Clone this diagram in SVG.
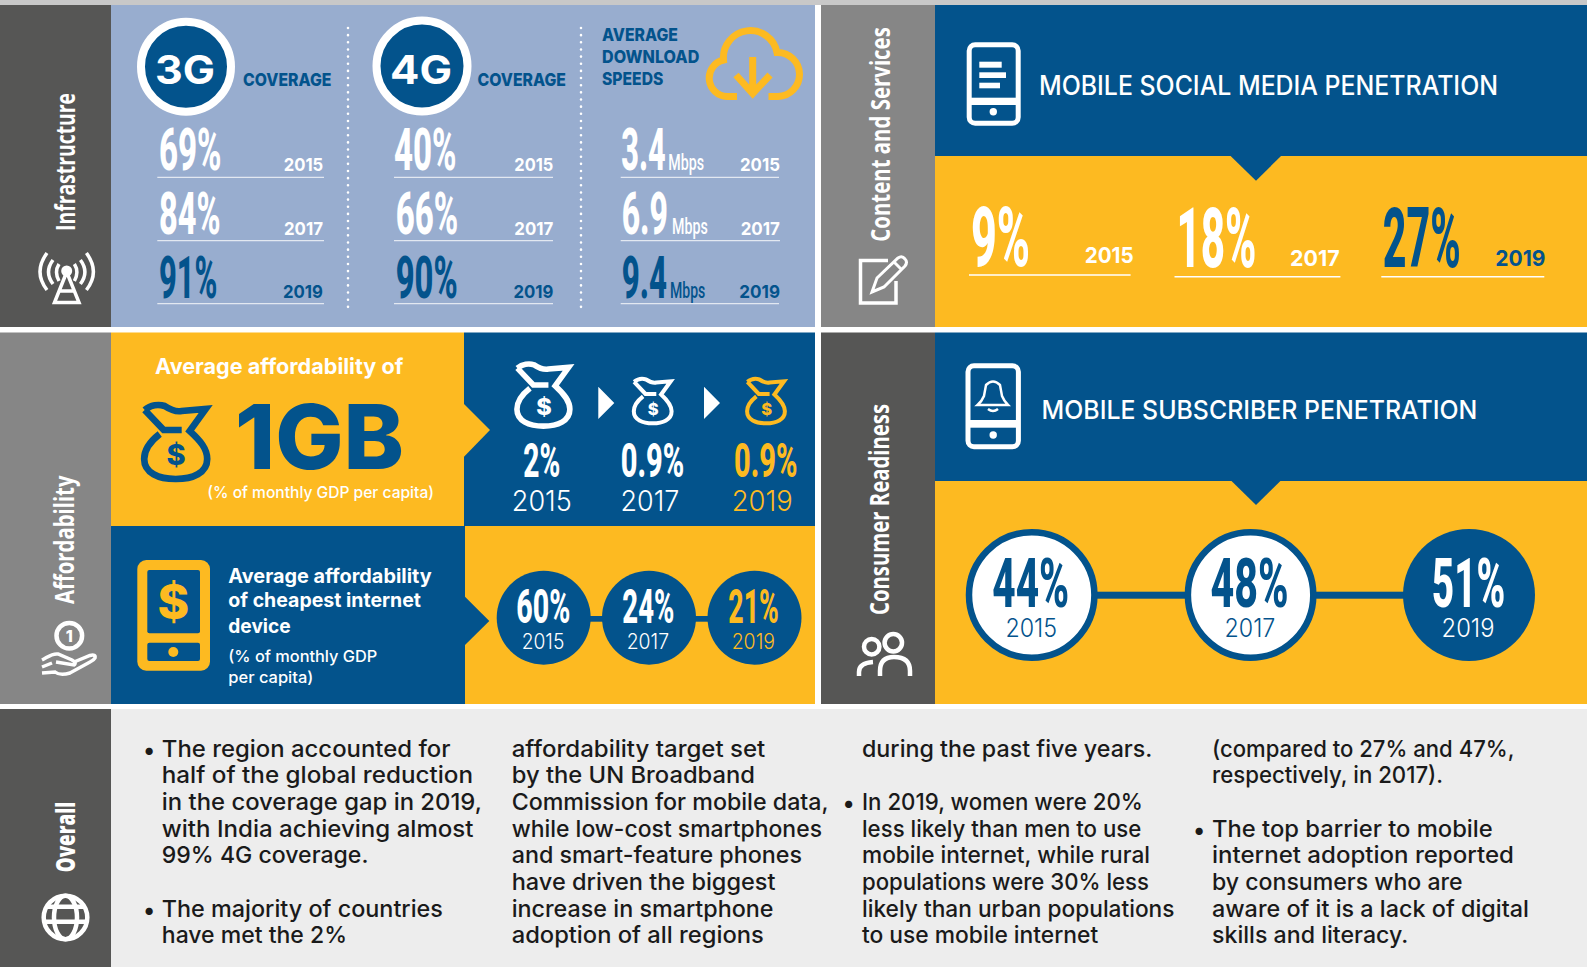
<svg xmlns="http://www.w3.org/2000/svg" width="1587" height="967" viewBox="0 0 1587 967">
<style>
text{font-family:Inter,"Liberation Sans",sans-serif}
.n{font-family:Roboto,"Liberation Sans",sans-serif;font-weight:800}
.m{font-family:Roboto,"Liberation Sans",sans-serif;font-weight:500;font-size:22px}
.y{font-weight:700}
.l{font-weight:300}
.h{font-weight:800;fill:#03538c}
.r{font-family:"Open Sans","Liberation Sans",sans-serif;font-weight:700;font-size:26px;fill:#fff}
.b{font-size:23px;font-weight:500;fill:#1a1a1a}
.w{fill:#fff}.u{fill:#03538c}.o{fill:#fdba21}
.rule{stroke:#e2e8f1;stroke-width:1.2;fill:none}
.dots{stroke:#fff;stroke-width:2.6;stroke-linecap:round;stroke-dasharray:0 7.15;fill:none}
.iw{fill:none;stroke:#fff;stroke-width:3.5}
.bag{fill:none;stroke-width:6.7;stroke-linejoin:miter}
</style>
<defs>
<g id="bagshape">
<path d="M4 7C10 2 18 1 24 3C30 7 36 9 41 8L65 6L49 28C60 38 66.500 46 66.500 56C66.500 70 52 76 35 76C18 76 3.500 70 3.500 56C3.500 46 10 38 19 31"/>
<path d="M4 7L23 27H41"/>
</g>
</defs>
<rect width="1587" height="967" fill="#fff"/>
<rect width="1587" height="5" fill="#c8c8c8"/>

<g id="infrastructure">
<rect x="0" y="5" width="111" height="322" fill="#565655"/>
<rect x="111" y="5" width="704" height="322" fill="#98adcf"/>
<text class="r" transform="translate(75,231) rotate(-90) scale(.75,1)" textLength="184" lengthAdjust="spacingAndGlyphs">Infrastructure</text>
<g class="iw">
<path d="M66.700 272L54.500 302.500H79L66.700 272M58 291H75.500"/>
<path d="M47 253Q33 272 47 290M53 260Q44 272 53 284M59 264Q54 272 59 281"/>
<path d="M86.400 253Q100.400 272 86.400 290M80.400 260Q89.400 272 80.400 284M74.400 264Q79.400 272 74.400 281"/>
</g>
<circle cx="66.700" cy="271" r="5.500" class="w"/>
<circle cx="186" cy="66.700" r="45" class="u" stroke="#fff" stroke-width="8"/>
<text x="155" y="83.500" font-size="40" font-weight="700" class="w" textLength="60" lengthAdjust="spacingAndGlyphs">3G</text>
<text x="243" y="86" font-size="17.500" class="h" textLength="88.500" lengthAdjust="spacingAndGlyphs">COVERAGE</text>
<circle cx="422" cy="66" r="45.500" class="u" stroke="#fff" stroke-width="8"/>
<text x="390" y="83.500" font-size="40" font-weight="700" class="w" textLength="62" lengthAdjust="spacingAndGlyphs">4G</text>
<text x="477.500" y="86" font-size="17.500" class="h" textLength="88.500" lengthAdjust="spacingAndGlyphs">COVERAGE</text>
<path class="dots" d="M348 28V313M581 28V313"/>
<path class="rule" d="M157.300 177.300H324M157.300 240.700H324M157.300 303.700H324M394 177.300H553M394 240.700H553M394 303.700H553M620.700 177.300H779M620.700 240.700H780M620.700 303.700H779"/>
<text class="n w" transform="translate(159,170) scale(.55,1)" font-size="60" textLength="113.600" lengthAdjust="spacingAndGlyphs">69%</text>
<text class="n w" transform="translate(159,234) scale(.55,1)" font-size="60" textLength="111.800" lengthAdjust="spacingAndGlyphs">84%</text>
<text class="n u" transform="translate(159,298) scale(.55,1)" font-size="60" textLength="106.400" lengthAdjust="spacingAndGlyphs">91%</text>
<text class="y w" x="283.700" y="170.700" font-size="18" textLength="39.500" lengthAdjust="spacingAndGlyphs">2015</text>
<text class="y w" x="284" y="235" font-size="18" textLength="39" lengthAdjust="spacingAndGlyphs">2017</text>
<text class="y u" x="283" y="297.700" font-size="18" textLength="40" lengthAdjust="spacingAndGlyphs">2019</text>
<text class="n w" transform="translate(394,170) scale(.55,1)" font-size="60" textLength="113.600" lengthAdjust="spacingAndGlyphs">40%</text>
<text class="n w" transform="translate(395.700,234) scale(.55,1)" font-size="60" textLength="113.600" lengthAdjust="spacingAndGlyphs">66%</text>
<text class="n u" transform="translate(395.700,298) scale(.55,1)" font-size="60" textLength="112.700" lengthAdjust="spacingAndGlyphs">90%</text>
<text class="y w" x="514.300" y="170.700" font-size="18" textLength="39" lengthAdjust="spacingAndGlyphs">2015</text>
<text class="y w" x="514.300" y="235" font-size="18" textLength="39" lengthAdjust="spacingAndGlyphs">2017</text>
<text class="y u" x="513.500" y="297.700" font-size="18" textLength="40" lengthAdjust="spacingAndGlyphs">2019</text>
<text class="h" x="602" y="40.700" font-size="17.500" textLength="76" lengthAdjust="spacingAndGlyphs">AVERAGE</text>
<text class="h" x="602" y="62.700" font-size="17.500" textLength="97.300" lengthAdjust="spacingAndGlyphs">DOWNLOAD</text>
<text class="h" x="602" y="85" font-size="17.500" textLength="61.300" lengthAdjust="spacingAndGlyphs">SPEEDS</text>
<g fill="none" stroke="#fdba21" stroke-width="7">
<path d="M737 96.500H727A18.500 18.500 0 0 1 723.500 60A27.050 27.050 0 0 1 777 52.500A21.500 21.500 0 0 1 778 96.500H768.500"/>
<path d="M752.700 57V94M736 75L752.700 93.500L770 75"/>
</g>
<text class="n w" transform="translate(621.300,170) scale(.52,1)" font-size="60" textLength="85.400" lengthAdjust="spacingAndGlyphs">3.4</text>
<text class="m w" transform="translate(668.300,170) scale(.67,1)" textLength="53.300" lengthAdjust="spacingAndGlyphs">Mbps</text>
<text class="n w" transform="translate(621.700,234) scale(.52,1)" font-size="60" textLength="89" lengthAdjust="spacingAndGlyphs">6.9</text>
<text class="m w" transform="translate(672,234) scale(.67,1)" textLength="53.300" lengthAdjust="spacingAndGlyphs">Mbps</text>
<text class="n u" transform="translate(621.700,298) scale(.52,1)" font-size="60" textLength="87" lengthAdjust="spacingAndGlyphs">9.4</text>
<text class="m u" transform="translate(670,298) scale(.67,1)" textLength="52.700" lengthAdjust="spacingAndGlyphs">Mbps</text>
<text class="y w" x="740" y="170.700" font-size="18" textLength="40" lengthAdjust="spacingAndGlyphs">2015</text>
<text class="y w" x="740.700" y="235" font-size="18" textLength="39.300" lengthAdjust="spacingAndGlyphs">2017</text>
<text class="y u" x="739.300" y="297.700" font-size="18" textLength="40.700" lengthAdjust="spacingAndGlyphs">2019</text>
</g>

<g id="content-services">
<rect x="821" y="5" width="114" height="322" fill="#868686"/>
<rect x="935" y="5" width="652" height="151" class="u"/>
<rect x="935" y="156" width="652" height="171" class="o"/>
<text class="r" transform="translate(890,241.700) rotate(-90) scale(.75,1)" textLength="286" lengthAdjust="spacingAndGlyphs">Content and Services</text>
<path class="iw" d="M888 260.500H860.500V303H896V281"/>
<path class="iw" style="fill:#868686;stroke-width:3" d="M872 292L877 278L898 258Q902 255 905 259Q908 262 905 266L884 287ZM894 262L902 270"/>
<rect x="969.200" y="44.800" width="49" height="78.400" rx="6" fill="none" stroke="#fff" stroke-width="5"/>
<rect x="969" y="97.700" width="49" height="7.300" class="w"/>
<rect x="979.300" y="61.700" width="22.400" height="6" class="w"/>
<rect x="979.300" y="72.300" width="26.700" height="5.700" class="w"/>
<rect x="979.300" y="82.700" width="20.700" height="5.600" class="w"/>
<circle cx="993.300" cy="111.700" r="3.700" class="w"/>
<text x="1039" y="94.700" font-size="26.500" font-weight="500" class="w" textLength="459" lengthAdjust="spacingAndGlyphs">MOBILE SOCIAL MEDIA PENETRATION</text>
<path class="u" d="M1230.600 156H1281L1256 180.700Z"/>
<path class="rule" style="stroke:#fff;stroke-width:1.500" d="M969 275H1130.600M1174.500 276.700H1340.400M1381.300 276.700H1544.300"/>
<text class="n w" transform="translate(971,265.700) scale(.55,1)" font-size="83" textLength="107.300" lengthAdjust="spacingAndGlyphs">9%</text>
<text class="y w" x="1084.700" y="262.700" font-size="22" textLength="49" lengthAdjust="spacingAndGlyphs">2015</text>
<text class="n w" transform="translate(1176.400,266.700) scale(.55,1)" font-size="83" textLength="145.500" lengthAdjust="spacingAndGlyphs">18%</text>
<text class="y w" x="1290" y="265.700" font-size="22" textLength="49.600" lengthAdjust="spacingAndGlyphs">2017</text>
<text class="n u" transform="translate(1382.800,266.700) scale(.55,1)" font-size="83" textLength="141.800" lengthAdjust="spacingAndGlyphs">27%</text>
<text class="y u" x="1495.300" y="265.700" font-size="22" textLength="50.200" lengthAdjust="spacingAndGlyphs">2019</text>
</g>

<g id="affordability">
<rect x="0" y="332.500" width="111" height="371.500" fill="#868686"/>
<rect x="111" y="332.500" width="353" height="193.500" class="o"/>
<rect x="464" y="332.500" width="351" height="193.500" class="u"/>
<rect x="111" y="526" width="354" height="178" class="u"/>
<rect x="465" y="526" width="350" height="178" class="o"/>
<path class="o" d="M464 404L490 430L464 456.700Z"/>
<path class="u" d="M465 596.700L489.300 621L465 645Z"/>
<text class="r" transform="translate(74,604) rotate(-90) scale(.75,1)" textLength="171.300" lengthAdjust="spacingAndGlyphs">Affordability</text>
<circle cx="69.300" cy="635.700" r="12.800" fill="none" stroke="#fff" stroke-width="4.500"/>
<text x="69.300" y="641.500" font-size="16" font-weight="800" text-anchor="middle" class="w">1</text>
<g class="iw">
<path d="M42 660C48 657 52 653 58 654L72 660Q77 663 74 665L56 662"/>
<path d="M74 662L90 655.500Q96 654 95 658Q94 660 90 662L70 673Q60 676 55 672L42 673"/>
<path d="M42 667L52 663"/>
</g>
<text x="155" y="374" font-size="22" font-weight="700" class="w" textLength="248.300" lengthAdjust="spacingAndGlyphs">Average affordability of</text>
<use href="#bagshape" transform="translate(140.700,403)" class="bag" stroke="#03538c"/>
<text x="176" y="465.400" font-size="29" font-weight="800" text-anchor="middle" class="u">$</text>
<text x="235" y="469.300" font-size="90" font-weight="800" class="u" textLength="169" lengthAdjust="spacingAndGlyphs">1GB</text>
<text x="207.300" y="497.700" font-size="16" font-weight="500" class="w" textLength="226.700" lengthAdjust="spacingAndGlyphs">(% of monthly GDP per capita)</text>
<use href="#bagshape" transform="translate(514,362.300) scale(.84)" class="bag" stroke="#fff"/>
<text x="544" y="414.500" font-size="23.500" font-weight="800" text-anchor="middle" class="w">$</text>
<use href="#bagshape" transform="translate(631.700,377.700) scale(.6)" class="bag" stroke="#fff"/>
<text x="653.300" y="414.500" font-size="16.500" font-weight="800" text-anchor="middle" class="w">$</text>
<use href="#bagshape" transform="translate(745,377.700) scale(.6)" class="bag" stroke="#fdba21"/>
<text x="766.700" y="414.500" font-size="16.500" font-weight="800" text-anchor="middle" class="o">$</text>
<text class="n w" transform="translate(523.300,476.700) scale(.6,1)" font-size="49" textLength="61.700" lengthAdjust="spacingAndGlyphs">2%</text>
<text class="n w" transform="translate(620.700,476.700) scale(.6,1)" font-size="49" textLength="105.800" lengthAdjust="spacingAndGlyphs">0.9%</text>
<text class="n o" transform="translate(734,476.700) scale(.6,1)" font-size="49" textLength="105.800" lengthAdjust="spacingAndGlyphs">0.9%</text>
<text class="l w" x="511.800" y="510.700" font-size="29" textLength="60" lengthAdjust="spacingAndGlyphs">2015</text>
<text class="l w" x="620.500" y="510.700" font-size="29" textLength="58.800" lengthAdjust="spacingAndGlyphs">2017</text>
<text class="l o" x="731.800" y="510.700" font-size="29" textLength="60.900" lengthAdjust="spacingAndGlyphs">2019</text>
<rect x="137.300" y="560" width="72.700" height="110.700" rx="9" class="o"/>
<rect x="147.300" y="570" width="52.700" height="63.300" rx="2" class="u"/>
<rect x="147.300" y="642.700" width="52.700" height="18.300" rx="2" class="u"/>
<circle cx="173.300" cy="652" r="5" class="o"/>
<text x="173.300" y="619" font-size="48" font-weight="800" text-anchor="middle" class="o">$</text>
<text x="228.300" y="582.700" font-size="19.500" font-weight="700" class="w" textLength="203.400" lengthAdjust="spacingAndGlyphs">Average affordability</text>
<text x="228.300" y="606.700" font-size="19.500" font-weight="700" class="w" textLength="192.700" lengthAdjust="spacingAndGlyphs">of cheapest internet</text>
<text x="228.300" y="632.700" font-size="19.500" font-weight="700" class="w" textLength="62.400" lengthAdjust="spacingAndGlyphs">device</text>
<text x="228.300" y="661.700" font-size="16" font-weight="500" class="w" textLength="149" lengthAdjust="spacingAndGlyphs">(% of monthly GDP</text>
<text x="228.300" y="682.700" font-size="16" font-weight="500" class="w" textLength="85" lengthAdjust="spacingAndGlyphs">per capita)</text>
</g>

<g id="consumer-readiness">
<rect x="821" y="332.500" width="114" height="371.500" fill="#565655"/>
<rect x="935" y="332.500" width="652" height="148.500" class="u"/>
<rect x="935" y="481" width="652" height="223" class="o"/>
<text class="r" transform="translate(889.300,615) rotate(-90) scale(.75,1)" textLength="281.300" lengthAdjust="spacingAndGlyphs">Consumer Readiness</text>
<circle cx="871.700" cy="646.700" r="7.700" fill="none" stroke="#fff" stroke-width="4.500"/>
<circle cx="893.300" cy="642.700" r="8.700" fill="none" stroke="#fff" stroke-width="4.500"/>
<path fill="none" stroke="#fff" stroke-width="4.500" d="M880 676V671Q880 657 894 657Q910 657 910 671V676M859 676V672Q859 663 873 662"/>
<rect x="968" y="365.800" width="50.400" height="81" rx="6" fill="none" stroke="#fff" stroke-width="5"/>
<rect x="968" y="420" width="50" height="7.700" class="w"/>
<circle cx="993.200" cy="435" r="3.700" class="w"/>
<path class="iw" style="stroke-width:2.500" d="M986 385Q993 378 1000 385L1002 396Q1004 401 1008 405H977.500Q982 401 984 396ZM988 409Q993 413 998 409"/>
<text x="1041.600" y="419" font-size="26" font-weight="500" class="w" textLength="435.800" lengthAdjust="spacingAndGlyphs">MOBILE SUBSCRIBER PENETRATION</text>
<path class="u" d="M1231.500 481H1280.400L1256 505Z"/>
</g>

<g id="connectors">
<rect x="590" y="616" width="13" height="5.700" class="u"/>
<rect x="695" y="616" width="13" height="5.700" class="u"/>
<rect x="1097" y="591.700" width="88" height="7" class="u"/>
<rect x="1316" y="591.700" width="88" height="7" class="u"/>
<path class="w" d="M598.300 386.700L614.300 403L598.300 419ZM704 386.700L720 403L704 419Z"/>
</g>

<g id="afford-device-values">
<circle cx="543.700" cy="617.700" r="47" class="u"/>
<circle cx="649" cy="617.700" r="47" class="u"/>
<circle cx="754.500" cy="617.700" r="47" class="u"/>
<text class="n w" transform="translate(516.300,622.700) scale(.6,1)" font-size="48" textLength="90" lengthAdjust="spacingAndGlyphs">60%</text>
<text class="n w" transform="translate(622.300,622.700) scale(.6,1)" font-size="48" textLength="86.700" lengthAdjust="spacingAndGlyphs">24%</text>
<text class="n o" transform="translate(728.300,622.700) scale(.6,1)" font-size="48" textLength="84.200" lengthAdjust="spacingAndGlyphs">21%</text>
<text class="l w" x="521.700" y="649.300" font-size="21" textLength="42.600" lengthAdjust="spacingAndGlyphs">2015</text>
<text class="l w" x="626.700" y="649.300" font-size="21" textLength="42.300" lengthAdjust="spacingAndGlyphs">2017</text>
<text class="l o" x="731.700" y="649.300" font-size="21" textLength="43.300" lengthAdjust="spacingAndGlyphs">2019</text>
</g>

<g id="subscriber-values">
<circle cx="1031.700" cy="595" r="62.700" class="w" stroke="#03538c" stroke-width="6.500"/>
<circle cx="1250.600" cy="595" r="62.700" class="w" stroke="#03538c" stroke-width="6.500"/>
<circle cx="1469" cy="595" r="66" class="u"/>
<text class="n u" transform="translate(992.200,606.700) scale(.62,1)" font-size="69" textLength="124.200" lengthAdjust="spacingAndGlyphs">44%</text>
<text class="n u" transform="translate(1210.500,606.700) scale(.62,1)" font-size="69" textLength="125.800" lengthAdjust="spacingAndGlyphs">48%</text>
<text class="n w" transform="translate(1431.800,606.700) scale(.62,1)" font-size="69" textLength="118.500" lengthAdjust="spacingAndGlyphs">51%</text>
<text class="l u" x="1005.400" y="636.700" font-size="25" textLength="51.600" lengthAdjust="spacingAndGlyphs">2015</text>
<text class="l u" x="1224.500" y="636.700" font-size="25" textLength="50.800" lengthAdjust="spacingAndGlyphs">2017</text>
<text class="l w" x="1441.600" y="636.700" font-size="25" textLength="52.900" lengthAdjust="spacingAndGlyphs">2019</text>
</g>

<g id="overall">
<rect x="0" y="709" width="111" height="258" fill="#565655"/>
<rect x="111" y="709" width="1476" height="258" fill="#ededed"/>
<text class="r" style="font-weight:800" transform="translate(75,872.300) rotate(-90) scale(.75,1)" textLength="94.100" lengthAdjust="spacingAndGlyphs">Overall</text>
<g fill="none" stroke="#fff" stroke-width="4.500">
<circle cx="65.500" cy="917.500" r="21.800"/>
<ellipse cx="65.500" cy="917.500" rx="11.500" ry="21.800"/>
<path d="M46 906.700H85M46 921.700H85"/>
</g>
<text class="b" x="143" y="757.500">•</text>
<text class="b" x="161.800" y="756.700" textLength="288.700" lengthAdjust="spacingAndGlyphs">The region accounted for</text>
<text class="b" x="161.800" y="783.300" textLength="311.200" lengthAdjust="spacingAndGlyphs">half of the global reduction</text>
<text class="b" x="161.800" y="810" textLength="320.200" lengthAdjust="spacingAndGlyphs">in the coverage gap in 2019,</text>
<text class="b" x="161.800" y="836.700" textLength="311.700" lengthAdjust="spacingAndGlyphs">with India achieving almost</text>
<text class="b" x="161.800" y="863.300" textLength="206.600" lengthAdjust="spacingAndGlyphs">99% 4G coverage.</text>
<text class="b" x="143" y="917.500">•</text>
<text class="b" x="161.800" y="916.700" textLength="281.100" lengthAdjust="spacingAndGlyphs">The majority of countries</text>
<text class="b" x="161.800" y="943.300" textLength="185.200" lengthAdjust="spacingAndGlyphs">have met the 2%</text>
<text class="b" x="511.700" y="756.700" textLength="253.600" lengthAdjust="spacingAndGlyphs">affordability target set</text>
<text class="b" x="511.700" y="783.300" textLength="243.300" lengthAdjust="spacingAndGlyphs">by the UN Broadband</text>
<text class="b" x="511.700" y="810" textLength="316.900" lengthAdjust="spacingAndGlyphs">Commission for mobile data,</text>
<text class="b" x="511.700" y="836.700" textLength="310.300" lengthAdjust="spacingAndGlyphs">while low-cost smartphones</text>
<text class="b" x="511.700" y="863.300" textLength="290.300" lengthAdjust="spacingAndGlyphs">and smart-feature phones</text>
<text class="b" x="511.700" y="890" textLength="263.800" lengthAdjust="spacingAndGlyphs">have driven the biggest</text>
<text class="b" x="511.700" y="916.700" textLength="261.800" lengthAdjust="spacingAndGlyphs">increase in smartphone</text>
<text class="b" x="511.700" y="943.300" textLength="252.100" lengthAdjust="spacingAndGlyphs">adoption of all regions</text>
<text class="b" x="862" y="756.700" textLength="290.400" lengthAdjust="spacingAndGlyphs">during the past five years.</text>
<text class="b" x="842.500" y="810.800">•</text>
<text class="b" x="862" y="810" textLength="280.900" lengthAdjust="spacingAndGlyphs">In 2019, women were 20%</text>
<text class="b" x="862" y="836.700" textLength="279.400" lengthAdjust="spacingAndGlyphs">less likely than men to use</text>
<text class="b" x="862" y="863.300" textLength="288" lengthAdjust="spacingAndGlyphs">mobile internet, while rural</text>
<text class="b" x="862" y="890" textLength="287" lengthAdjust="spacingAndGlyphs">populations were 30% less</text>
<text class="b" x="862" y="916.700" textLength="312.500" lengthAdjust="spacingAndGlyphs">likely than urban populations</text>
<text class="b" x="862" y="943.300" textLength="236.200" lengthAdjust="spacingAndGlyphs">to use mobile internet</text>
<text class="b" x="1212" y="756.700" textLength="302.400" lengthAdjust="spacingAndGlyphs">(compared to 27% and 47%,</text>
<text class="b" x="1212" y="783.300" textLength="231" lengthAdjust="spacingAndGlyphs">respectively, in 2017).</text>
<text class="b" x="1193" y="837.500">•</text>
<text class="b" x="1212" y="836.700" textLength="280.800" lengthAdjust="spacingAndGlyphs">The top barrier to mobile</text>
<text class="b" x="1212" y="863.300" textLength="301.900" lengthAdjust="spacingAndGlyphs">internet adoption reported</text>
<text class="b" x="1212" y="890" textLength="250.600" lengthAdjust="spacingAndGlyphs">by consumers who are</text>
<text class="b" x="1212" y="916.700" textLength="316.900" lengthAdjust="spacingAndGlyphs">aware of it is a lack of digital</text>
<text class="b" x="1212" y="943.300" textLength="196.400" lengthAdjust="spacingAndGlyphs">skills and literacy.</text>
</g>
</svg>
